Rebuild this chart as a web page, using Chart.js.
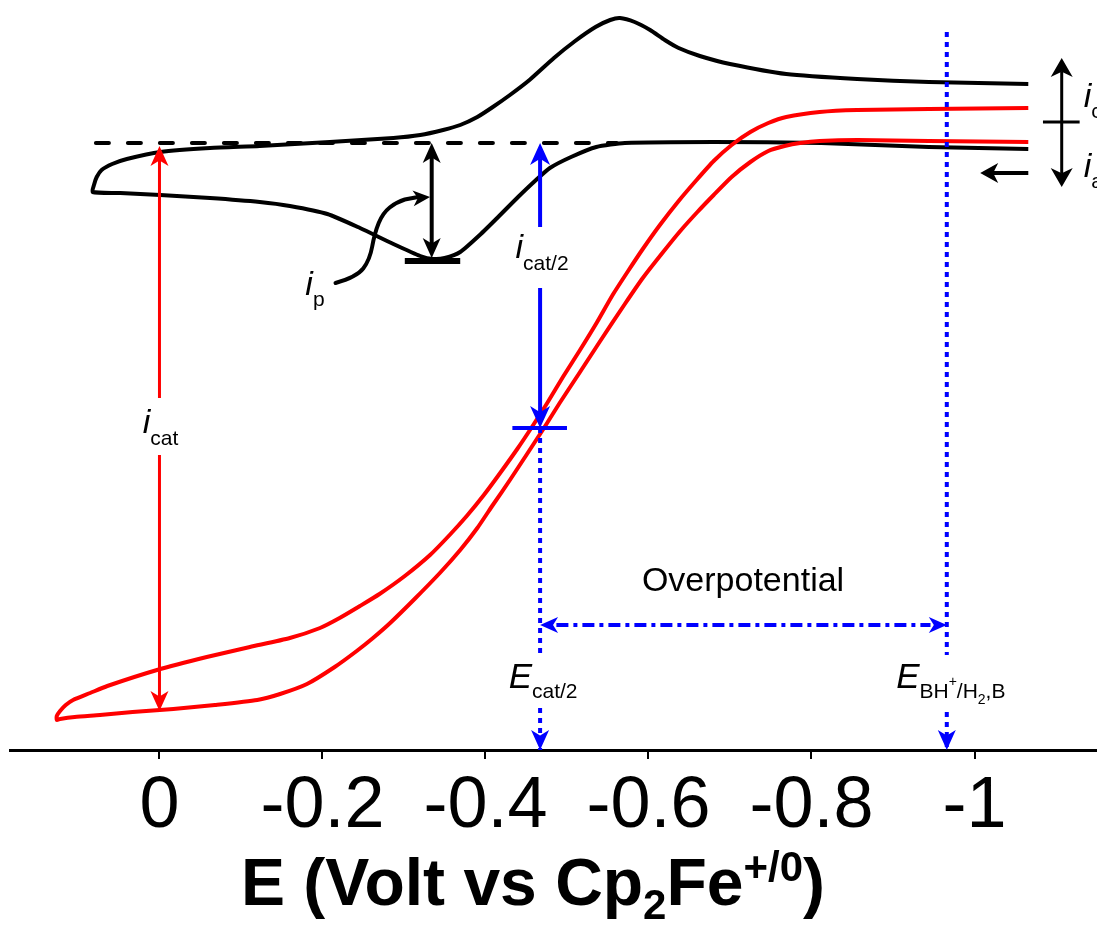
<!DOCTYPE html>
<html>
<head>
<meta charset="utf-8">
<script src="https://cdn.jsdelivr.net/npm/chart.js@4.4.1/dist/chart.umd.min.js"></script>
<style>
  html, body { margin: 0; padding: 0; background: #fff; }
  #wrap { width: 1097px; height: 929px; }
</style>
</head>
<body>
<div id="wrap"><canvas id="cv" width="1097" height="929"></canvas></div>
<script>
// ─── Data: [E (V vs Cp2Fe+/0), current (a.u.)] ─────────────────────────────
// CV without acid (scan starts at the right, goes left on the lower branch)
const blackCV = [
  [-1.066, 60.1], [-0.944, 60.3], [-0.812, 60.7], [-0.680, 60.8], [-0.571, 60.7],
  [-0.536, 60.3], [-0.505, 59.3], [-0.479, 58.2], [-0.462, 57.0], [-0.440, 55.3],
  [-0.418, 53.5], [-0.393, 51.5], [-0.369, 49.8], [-0.350, 49.2], [-0.336, 49.1],
  [-0.320, 49.4], [-0.287, 50.6], [-0.246, 52.2], [-0.206, 53.6], [-0.160, 54.4],
  [-0.123, 54.8], [-0.062, 55.2], [-0.001, 55.5], [0.048, 55.7], [0.082, 55.8],
  [0.080, 56.6], [0.077, 57.3], [0.071, 58.0], [0.058, 58.6], [0.040, 59.1],
  [-0.001, 59.8], [-0.062, 60.2], [-0.123, 60.4], [-0.209, 60.8], [-0.287, 61.2],
  [-0.320, 61.5], [-0.348, 62.0], [-0.369, 62.5], [-0.390, 63.3], [-0.409, 64.3],
  [-0.430, 65.5], [-0.454, 67.0], [-0.484, 69.2], [-0.510, 70.9], [-0.535, 72.3],
  [-0.553, 73.0], [-0.565, 73.2], [-0.583, 72.8], [-0.602, 72.0], [-0.620, 71.0],
  [-0.637, 70.2], [-0.663, 69.4], [-0.700, 68.6], [-0.769, 67.6], [-0.856, 67.1],
  [-0.944, 66.8], [-1.066, 66.6],
];

// CV with acid (catalytic wave)
const redCV = [
  [-1.066, 60.8], [-0.944, 60.9], [-0.856, 61.0], [-0.810, 60.9], [-0.786, 60.7],
  [-0.767, 60.4], [-0.747, 59.9], [-0.725, 58.8], [-0.702, 57.3], [-0.680, 55.5],
  [-0.660, 53.8], [-0.639, 51.9], [-0.617, 49.7], [-0.593, 47.2], [-0.571, 44.6],
  [-0.540, 40.8], [-0.516, 37.8], [-0.491, 34.7], [-0.471, 32.1], [-0.451, 29.6],
  [-0.430, 27.0], [-0.409, 24.5], [-0.390, 22.2], [-0.369, 20.0], [-0.344, 17.7],
  [-0.313, 15.1], [-0.283, 12.7], [-0.262, 11.2], [-0.242, 9.9], [-0.215, 8.3],
  [-0.181, 6.6], [-0.148, 5.6], [-0.120, 5.0], [-0.068, 4.5], [-0.017, 4.1],
  [0.033, 3.8], [0.073, 3.5], [0.104, 3.3], [0.122, 3.1], [0.126, 3.0],
  [0.126, 3.4], [0.122, 3.9], [0.115, 4.5], [0.106, 5.0], [0.085, 5.7],
  [0.064, 6.4], [0.003, 8.0], [-0.058, 9.3], [-0.111, 10.3], [-0.160, 11.2],
  [-0.197, 12.2], [-0.221, 13.2], [-0.246, 14.4], [-0.270, 15.6], [-0.301, 17.4],
  [-0.332, 19.5], [-0.356, 21.5], [-0.377, 23.4], [-0.398, 25.5], [-0.418, 27.7],
  [-0.439, 30.1], [-0.457, 32.3], [-0.475, 34.6], [-0.495, 37.3], [-0.516, 40.0],
  [-0.537, 42.8], [-0.556, 45.5], [-0.575, 47.9], [-0.593, 50.1], [-0.614, 52.5],
  [-0.637, 54.9], [-0.659, 57.0], [-0.680, 58.9], [-0.702, 60.5], [-0.725, 61.8],
  [-0.747, 62.7], [-0.769, 63.3], [-0.810, 63.8], [-0.856, 64.0], [-0.944, 64.1],
  [-1.066, 64.2],
];

const tickValues = [0, -0.2, -0.4, -0.6, -0.8, -1];
const tickLabels = ['0', '-0.2', '-0.4', '-0.6', '-0.8', '-1'];

// ─── Annotation anchors (same units) ───────────────────────────────────────
const BASELINE_I  = 60.7;            // dashed baseline
const BASELINE_E  = [0.078, -0.561];
const E_CAT2      = -0.467;
const I_CAT2      = 32.2;
const E_BH        = -0.966;
const BH_TOP_I    = 71.8;
const OVER_I      = 12.5;
const ICAT_E      = 0;
const ICAT_RANGE  = [60.4, 3.9];
const IP_E        = -0.334;
const IP_RANGE    = [60.7, 49.2];
const IP_TICK     = { i: 48.9, e: [-0.301, -0.369] };
const IP_CURVE    = [[-0.216, 46.7], [-0.242, 47.3], [-0.258, 49.0], [-0.264, 51.7],
                     [-0.274, 53.7], [-0.291, 54.8], [-0.311, 55.3], [-0.332, 55.3]];
const ICA_E       = -1.107;
const ICA_RANGE   = [69.2, 56.3];
const ICA_TICK    = { i: 62.8, e: [-1.084, -1.129] };
const SCAN_ARROW  = { i: 57.7, e: [-1.066, -1.007] };
const CAT2_TICK_E = [-0.433, -0.500];

const X_MIN = -1.1503, X_MAX = 0.1834;
const Y_MIN = 0, Y_MAX = 75;

const RED   = '#ff0000';
const BLUE  = '#0000ff';
const BLACK = '#000000';
const FAMILY = '"Liberation Sans", Arial, Helvetica, sans-serif';

// ─── Helpers ──────────────────────────────────────────────────────────────
const pts = (arr) => arr.map(([x, y]) => ({ x, y }));

function fnt(size, style) {
  return (style || '') + ' ' + size + 'px ' + FAMILY;
}

// draws a run of text pieces (sub/superscripts via dy); returns extent
function rich(ctx, parts, x, y, align) {
  let w = 0;
  parts.forEach((p) => { ctx.font = fnt(p.s, p.f); w += ctx.measureText(p.t).width; });
  let cx = align === 'center' ? x - w / 2 : x;
  const x0 = cx;
  parts.forEach((p) => {
    ctx.font = fnt(p.s, p.f);
    ctx.fillText(p.t, cx, y + (p.dy || 0));
    cx += ctx.measureText(p.t).width;
  });
  return { x0, w };
}

function head(ctx, x, y, ang, len, hw) {
  ctx.save();
  ctx.translate(x, y);
  ctx.rotate(ang);
  ctx.beginPath();
  ctx.moveTo(0, 0);
  ctx.lineTo(-len, -hw);
  ctx.lineTo(-len * 0.72, 0);
  ctx.lineTo(-len, hw);
  ctx.closePath();
  ctx.fill();
  ctx.restore();
}

function line(ctx, x1, y1, x2, y2, w) {
  ctx.lineWidth = w;
  ctx.beginPath();
  ctx.moveTo(x1, y1);
  ctx.lineTo(x2, y2);
  ctx.stroke();
}

function vArrow(ctx, x, yTop, yBot, w, len, hw, both) {
  line(ctx, x, yTop + (both ? len * 0.7 : 0), x, yBot - len * 0.7, w);
  head(ctx, x, yBot, Math.PI / 2, len, hw);
  if (both) head(ctx, x, yTop, -Math.PI / 2, len, hw);
}

// ─── Annotation plugin ─────────────────────────────────────────────────────
const annotations = {
  id: 'annotations',
  afterDatasetsDraw(chart) {
    const { ctx } = chart;
    const sx = chart.scales.x, sy = chart.scales.y;
    const X = (v) => sx.getPixelForValue(v);
    const Y = (v) => sy.getPixelForValue(v);
    ctx.save();
    ctx.lineCap = 'butt';
    ctx.textBaseline = 'alphabetic';

    // white boxes that break the lines behind labels
    const gap = (x0, x1, y0, y1) => { ctx.fillStyle = '#fff'; ctx.fillRect(x0, y0, x1 - x0, y1 - y0); };

    // i_cat (red)
    ctx.strokeStyle = RED; ctx.fillStyle = RED;
    vArrow(ctx, X(ICAT_E), Y(ICAT_RANGE[0]), Y(ICAT_RANGE[1]), 3, 20, 9, true);
    gap(X(ICAT_E) - 22, X(ICAT_E) + 22, Y(31.7) - 35, Y(31.7) + 22);
    ctx.fillStyle = BLACK;
    rich(ctx, [{ t: 'i', s: 34, f: 'italic' }, { t: 'cat', s: 21, dy: 12 }], X(ICAT_E) + 1, Y(31.7), 'center');

    // i_cat/2 (blue)
    ctx.strokeStyle = BLUE; ctx.fillStyle = BLUE;
    vArrow(ctx, X(E_CAT2), Y(BASELINE_I), Y(I_CAT2), 4, 22, 10, true);
    line(ctx, X(CAT2_TICK_E[0]), Y(I_CAT2), X(CAT2_TICK_E[1]), Y(I_CAT2), 4);
    gap(X(E_CAT2) - 30, X(E_CAT2) + 30, Y(49.2) - 31, Y(49.2) + 30);
    ctx.fillStyle = BLACK;
    rich(ctx, [{ t: 'i', s: 34, f: 'italic' }, { t: 'cat/2', s: 21, dy: 12 }], X(E_CAT2) + 2, Y(49.2), 'center');

    // blue arrowheads on the dotted guides, at the axis
    ctx.fillStyle = BLUE;
    head(ctx, X(E_CAT2), Y(0), Math.PI / 2, 20, 9);
    head(ctx, X(E_BH), Y(0), Math.PI / 2, 20, 9);
    // overpotential arrowheads
    head(ctx, X(E_CAT2), Y(OVER_I), Math.PI, 18, 8);
    head(ctx, X(E_BH), Y(OVER_I), 0, 18, 8);

    // E labels on the dotted guides
    const ecat = [{ t: 'E', s: 35, f: 'italic' }, { t: 'cat/2', s: 21, dy: 10 }];
    const ebh = [{ t: 'E', s: 35, f: 'italic' }, { t: 'BH', s: 21, dy: 10 }, { t: '+', s: 14, dy: -2 },
                 { t: '/H', s: 21, dy: 10 }, { t: '2', s: 14, dy: 16 }, { t: ',B', s: 21, dy: 10 }];
    gap(X(E_CAT2) - 36, X(E_CAT2) + 36, Y(6.2) - 33, Y(6.2) + 20);
    gap(X(E_BH) - 55, X(E_BH) + 58, Y(6.2) - 33, Y(6.2) + 20);
    ctx.fillStyle = BLACK;
    rich(ctx, ecat, X(E_CAT2) + 3, Y(6.2), 'center');
    rich(ctx, ebh, X(E_BH) + 4, Y(6.2), 'center');
    ctx.font = fnt(34);
    ctx.textAlign = 'center';
    ctx.fillText('Overpotential', X(-0.716), Y(15.9));
    ctx.textAlign = 'left';

    // i_p (black)
    ctx.strokeStyle = BLACK; ctx.fillStyle = BLACK;
    vArrow(ctx, X(IP_E), Y(IP_RANGE[0]), Y(IP_RANGE[1]), 4, 20, 9, true);
    line(ctx, X(IP_TICK.e[0]), Y(IP_TICK.i), X(IP_TICK.e[1]), Y(IP_TICK.i), 6);
    ctx.lineWidth = 4;
    ctx.lineCap = 'round';
    ctx.beginPath();
    const c = IP_CURVE.map(([e, i]) => [X(e), Y(i)]);
    ctx.moveTo(c[0][0], c[0][1]);
    for (let k = 1; k < c.length - 2; k++) {
      const mx = (c[k][0] + c[k + 1][0]) / 2, my = (c[k][1] + c[k + 1][1]) / 2;
      ctx.quadraticCurveTo(c[k][0], c[k][1], mx, my);
    }
    ctx.lineTo(c[c.length - 1][0] - 12, c[c.length - 1][1]);
    ctx.stroke();
    ctx.lineCap = 'butt';
    head(ctx, c[c.length - 1][0], c[c.length - 1][1], -0.08, 17, 8);
    rich(ctx, [{ t: 'i', s: 34, f: 'italic' }, { t: 'p', s: 21, dy: 11 }], X(-0.179), Y(45.5), 'left');

    // i_c / i_a indicator at the right edge
    vArrow(ctx, X(ICA_E), Y(ICA_RANGE[0]), Y(ICA_RANGE[1]), 3, 19, 11, true);
    line(ctx, X(ICA_TICK.e[0]), Y(ICA_TICK.i), X(ICA_TICK.e[1]), Y(ICA_TICK.i), 3);
    line(ctx, X(SCAN_ARROW.e[0]), Y(SCAN_ARROW.i), X(SCAN_ARROW.e[1]) + 12, Y(SCAN_ARROW.i), 4);
    head(ctx, X(SCAN_ARROW.e[1]), Y(SCAN_ARROW.i), Math.PI, 18, 10);
    rich(ctx, [{ t: 'i', s: 34, f: 'italic' }, { t: 'c', s: 21, dy: 11 }], X(-1.134), Y(64.3), 'left');
    rich(ctx, [{ t: 'i', s: 34, f: 'italic' }, { t: 'a', s: 21, dy: 11 }], X(-1.134), Y(57.3), 'left');

    ctx.restore();
  },
  afterDraw(chart) {
    // axis title with sub/superscripts
    const { ctx } = chart;
    ctx.save();
    ctx.fillStyle = BLACK;
    ctx.textBaseline = 'alphabetic';
    const title = [
      { t: 'E (Volt vs Cp', s: 66, f: 'bold' },
      { t: '2', s: 42, f: 'bold', dy: 14 },
      { t: 'Fe', s: 66, f: 'bold' },
      { t: '+/0', s: 42, f: 'bold', dy: -24 },
      { t: ')', s: 66, f: 'bold' },
    ];
    rich(ctx, title, 533, 905, 'center');
    ctx.restore();
  },
};

// ─── Chart ─────────────────────────────────────────────────────────────────
const guide = (data, dash, order) => ({
  data, showLine: true, borderColor: BLUE, borderWidth: 4, borderDash: dash,
  pointRadius: 0, fill: false, order,
});

new Chart(document.getElementById('cv'), {
  type: 'scatter',
  data: {
    datasets: [
      { label: 'E BH+/H2,B', ...guide([{ x: E_BH, y: BH_TOP_I }, { x: E_BH, y: 0 }], [5, 5], 0) },
      { label: 'E cat/2', ...guide([{ x: E_CAT2, y: I_CAT2 }, { x: E_CAT2, y: 0 }], [5, 5], 0) },
      { label: 'Overpotential', ...guide([{ x: E_CAT2 - 0.02, y: OVER_I }, { x: E_BH + 0.02, y: OVER_I }], [12, 5, 4, 5], 0) },
      {
        label: 'with acid', data: pts(redCV), showLine: true, borderColor: RED, borderWidth: 4,
        tension: 0.2, pointRadius: 0, fill: false, order: 1,
      },
      {
        label: 'no acid', data: pts(blackCV), showLine: true, borderColor: BLACK, borderWidth: 4,
        tension: 0.2, pointRadius: 0, fill: false, order: 2,
      },
      {
        label: 'baseline', data: [{ x: BASELINE_E[0], y: BASELINE_I }, { x: BASELINE_E[1], y: BASELINE_I }],
        showLine: true, borderColor: BLACK, borderWidth: 4, borderDash: [13, 19], borderCapStyle: 'round',
        pointRadius: 0, fill: false, order: 3,
      },
    ],
  },
  options: {
    responsive: false,
    animation: false,
    devicePixelRatio: 1,
    layout: { padding: { left: 10, right: 0, top: 0, bottom: 0 } },
    plugins: { legend: { display: false }, tooltip: { enabled: false }, title: { display: false } },
    scales: {
      x: {
        type: 'linear',
        reverse: true,
        min: X_MIN,
        max: X_MAX,
        afterBuildTicks: (s) => { s.ticks = tickValues.map((v) => ({ value: v })); },
        afterFit: (s) => { s.height = 179; },
        ticks: {
          color: BLACK,
          font: { family: FAMILY, size: 72, lineHeight: 1 },
          padding: 12,
          maxRotation: 0,
          autoSkip: false,
          callback: (v) => tickLabels[tickValues.indexOf(v)] ?? '',
        },
        grid: { display: true, drawOnChartArea: false, drawTicks: true, tickLength: 9, color: BLACK, lineWidth: 2 },
        border: { display: true, color: BLACK, width: 3 },
      },
      y: { display: false, min: Y_MIN, max: Y_MAX },
    },
  },
  plugins: [annotations],
});
</script>
</body>
</html>
